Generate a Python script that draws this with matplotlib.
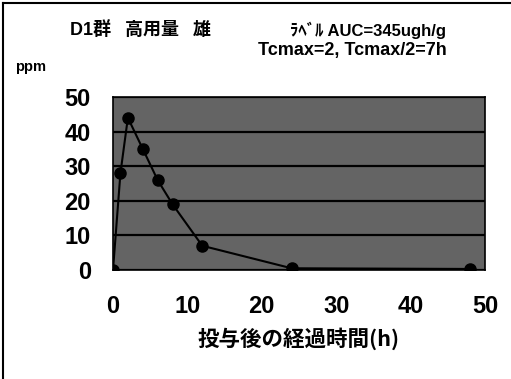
import matplotlib
matplotlib.use("Agg")
import matplotlib.pyplot as plt

times = [0, 1, 2, 4, 6, 8, 12, 24, 48]
ppm = [0, 28, 44, 35, 26, 19, 7, 0.5, 0.3]
xticks = [0, 10, 20, 30, 40, 50]
yticks = [0, 10, 20, 30, 40, 50]
title_left = "D1群\u2002 高用量\u2002 雄"
title_right1 = "ﾗﾍﾞﾙ AUC=345ugh/g"
title_right2 = "Tcmax=2, Tcmax/2=7h"
ylabel = "ppm"
xlabel = "投与後の経過時間(h)"

plt.rcParams['font.family'] = ['Liberation Sans', 'Noto Sans CJK JP', 'DejaVu Sans']

W, H = 511, 379
fig = plt.figure(figsize=(W / 100, H / 100), dpi=100)
fig.patch.set_facecolor('white')

# figure border lines (left and top)
fig.add_artist(plt.Line2D([3 / W, 3 / W], [0, 1 - 3 / H], color='black', lw=1.5))
fig.add_artist(plt.Line2D([3 / W, 1], [1 - 3 / H, 1 - 3 / H], color='black', lw=1.5))

x0, x1 = 113, 485
y0, y1 = 97, 270
ax = fig.add_axes([x0 / W, 1 - y1 / H, (x1 - x0) / W, (y1 - y0) / H])
ax.set_facecolor('#646464')
ax.set_xlim(0, 50)
ax.set_ylim(0, 50)
ax.set_xticks(xticks)
ax.set_yticks(yticks)
ax.tick_params(length=0, labelsize=17)
ax.tick_params(axis='y', pad=16)
ax.tick_params(axis='x', pad=18)
for lab in ax.get_xticklabels() + ax.get_yticklabels():
    lab.set_fontweight('bold')
ax.yaxis.grid(True, color='black', lw=1.6)
ax.set_axisbelow(True)
for s in ax.spines.values():
    s.set_color('black')
    s.set_linewidth(1.2)

ax.plot(times, ppm, color='black', lw=1.5, marker='o', markersize=8,
        markerfacecolor='black', markeredgecolor='black', zorder=3)

ax.set_xlabel(xlabel, fontsize=15.5, fontweight='bold',
              family=['Noto Sans CJK JP', 'DejaVu Sans'], labelpad=7)

fig.text(70 / W, 1 - 30 / H, title_left, fontsize=13, fontweight='bold',
         family=['Liberation Sans', 'Noto Sans CJK JP'], va='center', ha='left')
fig.text(290 / W, 1 - 30 / H, title_right1, fontsize=12, fontweight='bold',
         family=['Liberation Sans', 'Noto Sans CJK JP'], va='center', ha='left')
fig.text(258 / W, 1 - 51 / H, title_right2, fontsize=13, fontweight='bold',
         va='center', ha='left')
fig.text(15 / W, 1 - 67 / H, ylabel, fontsize=10.5, fontweight='bold',
         va='center', ha='left')

fig.savefig('out.png', dpi=100)
